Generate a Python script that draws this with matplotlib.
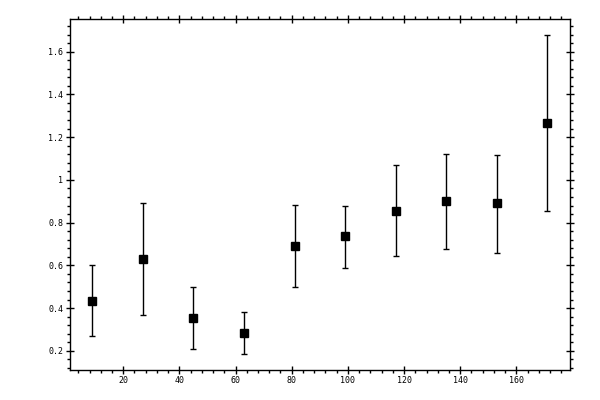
import matplotlib
matplotlib.use('Agg')
import matplotlib.pyplot as plt
from matplotlib.ticker import MultipleLocator

# data
x = [9, 27, 45, 63, 81, 99, 117, 135, 153, 171]
y = [0.433, 0.631, 0.353, 0.283, 0.692, 0.736, 0.856, 0.900, 0.891, 1.264]
y_low = [0.269, 0.367, 0.208, 0.185, 0.500, 0.589, 0.645, 0.678, 0.659, 0.852]
y_high = [0.603, 0.894, 0.500, 0.381, 0.884, 0.876, 1.069, 1.119, 1.114, 1.678]

err_lo = [v - lo for v, lo in zip(y, y_low)]
err_hi = [hi - v for v, hi in zip(y, y_high)]

plt.rcParams['font.family'] = ['DejaVu Sans Mono']

fig = plt.figure(figsize=(6, 4), dpi=100)
ax = fig.add_axes([0.116, 0.075, 0.834, 0.8775])

ax.errorbar(x, y, yerr=[err_lo, err_hi], fmt='s', color='black',
            ecolor='black', elinewidth=1.0, capsize=2.2, capthick=1.0,
            markersize=5.5)

ax.xaxis.set_major_locator(MultipleLocator(20))
ax.xaxis.set_minor_locator(MultipleLocator(4))
ax.yaxis.set_major_locator(MultipleLocator(0.2))
ax.yaxis.set_minor_locator(MultipleLocator(0.04))

ax.tick_params(which='major', direction='inout', length=6, width=1,
               top=True, right=True, labelsize=6, pad=1.5)
ax.tick_params(which='minor', direction='out', length=2.5, width=1,
               top=True, right=True)

for s in ax.spines.values():
    s.set_linewidth(1)

ax.yaxis.set_major_formatter(plt.FuncFormatter(lambda v, p: ('%g' % round(v, 2))))

plt.savefig('out.png', dpi=100)
